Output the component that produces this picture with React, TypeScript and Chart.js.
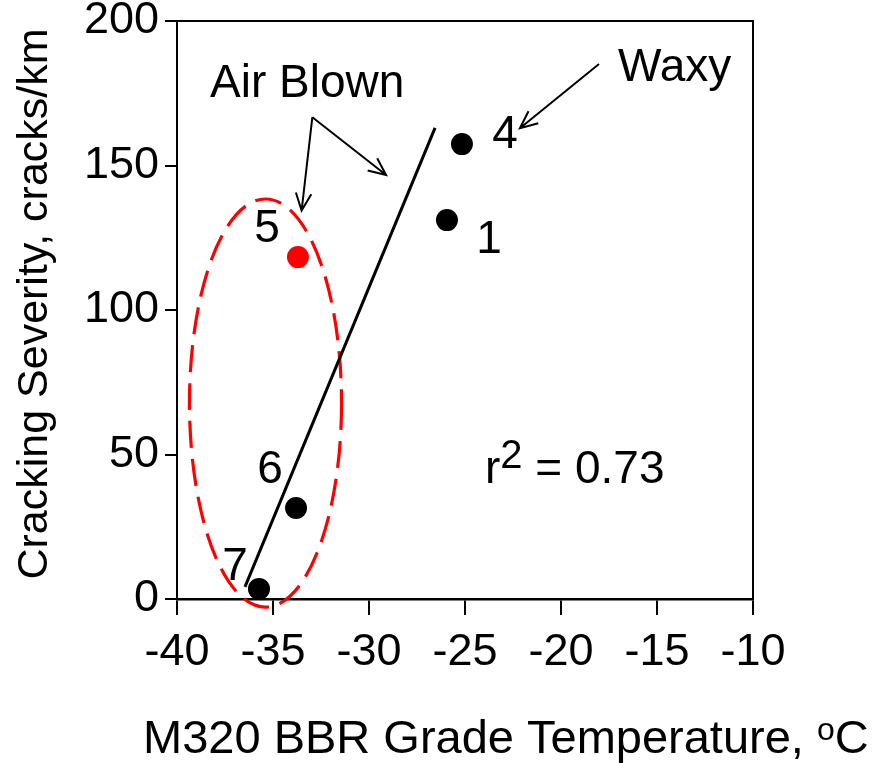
import React, { useEffect, useRef } from 'react';
import { Chart, registerables } from 'chart.js';

Chart.register(...registerables);

// Samples (id, M320 BBR grade temperature in °C, cracking severity in cracks/km)
const sampleIds = ['1', '4', '5', '6', '7'];
const bbrTemp = [-25.94, -25.16, -33.7, -33.8, -35.73];
const crackSeverity = [131.1, 157.4, 118.3, 31.5, 3.5];
const sampleColors = ['#000000', '#000000', '#ff0000', '#000000', '#000000'];

// Sample number labels (data coordinates of label centre / baseline)
const labelTemp = [-23.75, -22.92, -35.31, -35.16, -36.98];
const labelSeverity = [119.7, 156.1, 123.5, 40.1, 6.6];

// Regression line end points
const fitTemp = [-36.46, -26.56];
const fitSeverity = [4.2, 163.0];
const r2Text = '0.73';
const r2Pos = [-23.96, 40.1];

// Axis ticks
const xTicks = [-40, -35, -30, -25, -20, -15, -10];
const yTicks = [0, 50, 100, 150, 200];

// Air blown group ellipse (centre and radii in data units)
const ellipseCenter = [-35.39, 67.8];
const ellipseRadii = [3.96, 70.6];

// Annotation texts and arrows
const noteText = ['Air Blown', 'Waxy'];
const noteTemp = [-38.28, -17.03];
const noteSeverity = [173.7, 179.2];
const arrowFromTemp = [-32.95, -32.95, -18.02];
const arrowFromSeverity = [166.7, 166.7, 185.1];
const arrowToTemp = [-33.51, -29.11, -22.14];
const arrowToSeverity = [134.4, 146.7, 162.9];

const FONT = '"Liberation Sans", Arial, Helvetica, sans-serif';

const overlayPlugin = {
  id: 'overlay',
  beforeDatasetsDraw(chart: any) {
    const { ctx, scales } = chart;
    const x = scales.x;
    const y = scales.y;
    const cx = x.getPixelForValue(ellipseCenter[0]);
    const cy = y.getPixelForValue(ellipseCenter[1]);
    const rx = Math.abs(x.getPixelForValue(ellipseCenter[0] + ellipseRadii[0]) - cx);
    const ry = Math.abs(y.getPixelForValue(ellipseCenter[1] + ellipseRadii[1]) - cy);
    ctx.save();
    ctx.strokeStyle = '#ff0000';
    ctx.lineWidth = 3.2;
    ctx.setLineDash([27, 11]);
    ctx.beginPath();
    ctx.ellipse(cx, cy, rx, ry, 0, 0, Math.PI * 2);
    ctx.stroke();
    ctx.restore();
  },
  afterDraw(chart: any) {
    const { ctx, scales, chartArea } = chart;
    const x = scales.x;
    const y = scales.y;
    ctx.save();
    // frame top/right
    ctx.strokeStyle = '#000';
    ctx.lineWidth = 2;
    ctx.beginPath();
    ctx.moveTo(chartArea.left, chartArea.top);
    ctx.lineTo(chartArea.right, chartArea.top);
    ctx.lineTo(chartArea.right, chartArea.bottom);
    ctx.stroke();

    // arrows
    ctx.lineWidth = 2;
    for (let i = 0; i < arrowFromTemp.length; i++) {
      const x0 = x.getPixelForValue(arrowFromTemp[i]);
      const y0 = y.getPixelForValue(arrowFromSeverity[i]);
      const x1 = x.getPixelForValue(arrowToTemp[i]);
      const y1 = y.getPixelForValue(arrowToSeverity[i]);
      const ang = Math.atan2(y1 - y0, x1 - x0);
      const hl = 19;
      const ha = 0.42;
      ctx.beginPath();
      ctx.moveTo(x0, y0);
      ctx.lineTo(x1, y1);
      ctx.moveTo(x1 - hl * Math.cos(ang - ha), y1 - hl * Math.sin(ang - ha));
      ctx.lineTo(x1, y1);
      ctx.lineTo(x1 - hl * Math.cos(ang + ha), y1 - hl * Math.sin(ang + ha));
      ctx.stroke();
    }

    ctx.fillStyle = '#000';
    ctx.textBaseline = 'alphabetic';

    // sample labels
    ctx.font = `46px ${FONT}`;
    ctx.textAlign = 'center';
    for (let i = 0; i < sampleIds.length; i++) {
      ctx.fillText(sampleIds[i], x.getPixelForValue(labelTemp[i]), y.getPixelForValue(labelSeverity[i]));
    }

    // notes
    ctx.textAlign = 'left';
    for (let i = 0; i < noteText.length; i++) {
      ctx.fillText(noteText[i], x.getPixelForValue(noteTemp[i]), y.getPixelForValue(noteSeverity[i]));
    }

    // r^2 text
    let rx0 = x.getPixelForValue(r2Pos[0]);
    const ry0 = y.getPixelForValue(r2Pos[1]);
    ctx.fillText('r', rx0, ry0);
    rx0 += ctx.measureText('r').width;
    ctx.font = `40px ${FONT}`;
    ctx.fillText('2', rx0, ry0 - 15);
    rx0 += ctx.measureText('2').width;
    ctx.font = `46px ${FONT}`;
    ctx.fillText(' = ' + r2Text, rx0, ry0);

    // x axis title
    ctx.font = `47px ${FONT}`;
    let tx = 143;
    const ty = 753;
    const main = 'M320 BBR Grade Temperature, ';
    ctx.fillText(main, tx, ty);
    tx += ctx.measureText(main).width;
    ctx.font = `32px ${FONT}`;
    ctx.fillText('o', tx, ty - 13);
    tx += ctx.measureText('o').width;
    ctx.font = `47px ${FONT}`;
    ctx.fillText('C', tx, ty);

    // y axis title
    ctx.translate(47, 304);
    ctx.rotate(-Math.PI / 2);
    ctx.font = `43px ${FONT}`;
    ctx.textAlign = 'center';
    ctx.fillText('Cracking Severity, cracks/km', 0, 0);
    ctx.restore();
  },
};

export default function App() {
  const canvasRef = useRef<HTMLCanvasElement | null>(null);

  useEffect(() => {
    const canvas = canvasRef.current;
    if (!canvas) return;
    const points = bbrTemp.map((t, i) => ({ x: t, y: crackSeverity[i] }));
    const fit = fitTemp.map((t, i) => ({ x: t, y: fitSeverity[i] }));
    const chart = new Chart(canvas, {
      type: 'scatter',
      data: {
        datasets: [
          {
            data: points,
            pointRadius: 11,
            pointHoverRadius: 11,
            pointBackgroundColor: sampleColors,
            pointBorderColor: sampleColors,
            pointBorderWidth: 0,
          } as any,
          {
            type: 'line',
            data: fit,
            borderColor: '#000000',
            borderWidth: 3,
            pointRadius: 0,
            showLine: true,
            fill: false,
          } as any,
        ],
      },
      options: {
        responsive: false,
        animation: false,
        devicePixelRatio: 1,
        layout: { padding: { top: 21, right: 136, left: 0, bottom: 0 }, autoPadding: false } as any,
        plugins: { legend: { display: false }, tooltip: { enabled: false }, title: { display: false } },
        scales: {
          x: {
            type: 'linear',
            min: -40,
            max: -10,
            afterBuildTicks: (s: any) => {
              s.ticks = xTicks.map((v) => ({ value: v }));
            },
            afterFit: (s: any) => {
              s.height = 164;
              s.paddingLeft = 0;
              s.paddingRight = 0;
            },
            border: { display: true, color: '#000', width: 2.5 },
            grid: { drawOnChartArea: false, drawTicks: true, tickLength: 16, tickColor: '#000', tickWidth: 2, color: '#000', lineWidth: 2 },
            ticks: { color: '#000', font: { family: FONT, size: 45 }, padding: 11, maxRotation: 0, autoSkip: false },
          },
          y: {
            type: 'linear',
            min: 0,
            max: 200,
            afterBuildTicks: (s: any) => {
              s.ticks = yTicks.map((v) => ({ value: v }));
            },
            afterFit: (s: any) => {
              s.width = 177;
              s.paddingTop = 0;
              s.paddingBottom = 0;
            },
            border: { display: true, color: '#000', width: 2 },
            grid: { drawOnChartArea: false, drawTicks: true, tickLength: 12, tickColor: '#000', tickWidth: 2, color: '#000', lineWidth: 2 },
            ticks: { color: '#000', font: { family: FONT, size: 45 }, padding: 6, autoSkip: false },
          },
        },
      } as any,
      plugins: [overlayPlugin],
    });
    return () => chart.destroy();
  }, []);

  return (
    <div style={{ position: 'absolute', left: 0, top: 0, width: 889, height: 763, background: '#fff' }}>
      <canvas ref={canvasRef} width={889} height={763} style={{ display: 'block', width: 889, height: 763 }} />
    </div>
  );
}
